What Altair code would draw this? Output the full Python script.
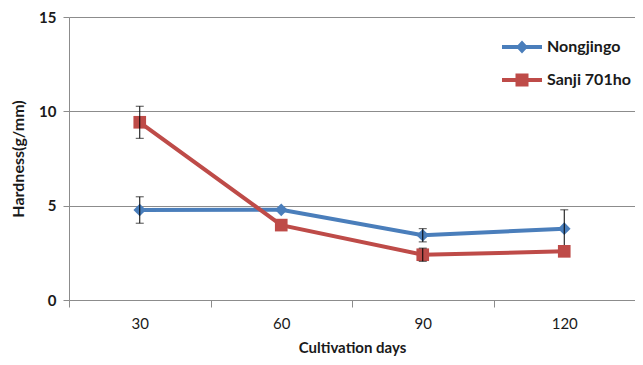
import altair as alt
import pandas as pd

days = [30, 60, 90, 120]
series_names = ["Nongjingo", "Sanji 701ho"]
nongjingo = [4.77, 4.78, 3.43, 3.78]
nongjingo_err = [0.7, 0.0, 0.35, 1.0]
sanji = [9.42, 3.97, 2.40, 2.58]
sanji_err = [0.85, 0.0, 0.35, 0.0]
colors = ["#4A7EBB", "#BE4B48"]

rows = []
for d, v, e in zip(days, nongjingo, nongjingo_err):
    rows.append({"day": d, "series": series_names[0], "value": v, "err": e, "lo": v - e, "hi": v + e})
for d, v, e in zip(days, sanji, sanji_err):
    rows.append({"day": d, "series": series_names[1], "value": v, "err": e, "lo": v - e, "hi": v + e})
df = pd.DataFrame(rows)

FONT = "Lato"
TXT = "#1a1a1a"
GRID = "#8c8c8c"

diamond_path = "M-2,-0.2H2V0.2H-2Z M0,-0.65L0.6,0L0,0.65L-0.6,0Z"
square_path = "M-2,-0.2H2V0.2H-2Z M-0.65,-0.65H0.65V0.65H-0.65Z"

x = alt.X(
    "day:Q",
    scale=alt.Scale(domain=[15, 135], nice=False, zero=False),
    axis=alt.Axis(
        values=[15, 30, 45, 60, 75, 90, 105, 120, 135],
        labelExpr="(datum.value - 15) % 30 == 0 ? '' : datum.label",
        tickColor={"condition": {"test": "(datum.value - 15) % 30 == 0", "value": GRID}, "value": "transparent"},
        tickSize=7,
        grid=False,
        title="Cultivation days",
        labelPadding=9,
        labelFontSize=15,
        labelFont=FONT,
        labelColor=TXT,
        titleFont=FONT,
        titleFontSize=15,
        titleFontWeight="bold",
        titleColor=TXT,
        titlePadding=9,
        domainColor=GRID,
        labelFlush=False,
        labelOverlap=False,
    ),
)
y = alt.Y(
    "value:Q",
    scale=alt.Scale(domain=[0, 15], nice=False),
    axis=alt.Axis(
        values=[0, 5, 10, 15],
        tickSize=6,
        tickColor=GRID,
        gridColor=GRID,
        domainColor=GRID,
        title="Hardness(g/mm)",
        labelPadding=7,
        labelFontSize=15,
        labelFontWeight="bold",
        labelFont=FONT,
        labelColor=TXT,
        titleFont=FONT,
        titleFontSize=16,
        titleFontWeight="bold",
        titleColor=TXT,
        titlePadding=12,
    ),
)


def legend_for(i, path):
    return alt.Legend(
        title=None,
        orient="none",
        legendX=443,
        legendY=20 + 33 * i,
        symbolType=path,
        symbolSize=400,
        symbolStrokeWidth=0,
        symbolFillColor=colors[i],
        symbolOpacity=1,
        labelOffset=15,
        labelFont=FONT,
        labelFontSize=16,
        labelFontWeight="bold",
        labelColor=TXT,
    )


def series_layers(i, shape, path):
    name = series_names[i]
    sub = alt.Chart(df).transform_filter(alt.datum.series == name)
    line = sub.mark_line(strokeWidth=4).encode(
        x=x, y=y,
        color=alt.Color("series:N", scale=alt.Scale(domain=[name], range=[colors[i]]), legend=legend_for(i, path)),
    )
    pts = sub.mark_point(filled=True, opacity=1, size=160, shape=shape, color=colors[i]).encode(
        x="day:Q", y="value:Q"
    )
    eb = sub.transform_filter(alt.datum.err > 0)
    err_rule = eb.mark_rule(color="black", strokeWidth=1).encode(x="day:Q", y="lo:Q", y2="hi:Q")
    cap_hi = eb.mark_tick(color="black", thickness=1, size=8, orient="horizontal").encode(x="day:Q", y="hi:Q")
    cap_lo = eb.mark_tick(color="black", thickness=1, size=8, orient="horizontal").encode(x="day:Q", y="lo:Q")
    return [line, pts, err_rule, cap_hi, cap_lo]


layers = series_layers(0, "diamond", diamond_path) + series_layers(1, "square", square_path)

chart = alt.layer(*layers).resolve_scale(color="independent").properties(
    width=566,
    height=283,
    autosize=alt.AutoSizeParams(type="none"),
    padding={"left": 61, "top": 9, "right": 0, "bottom": 57},
).configure_view(stroke=None).configure(background="white")

chart.save("out.html", embed_options={"renderer": "svg", "actions": False})
